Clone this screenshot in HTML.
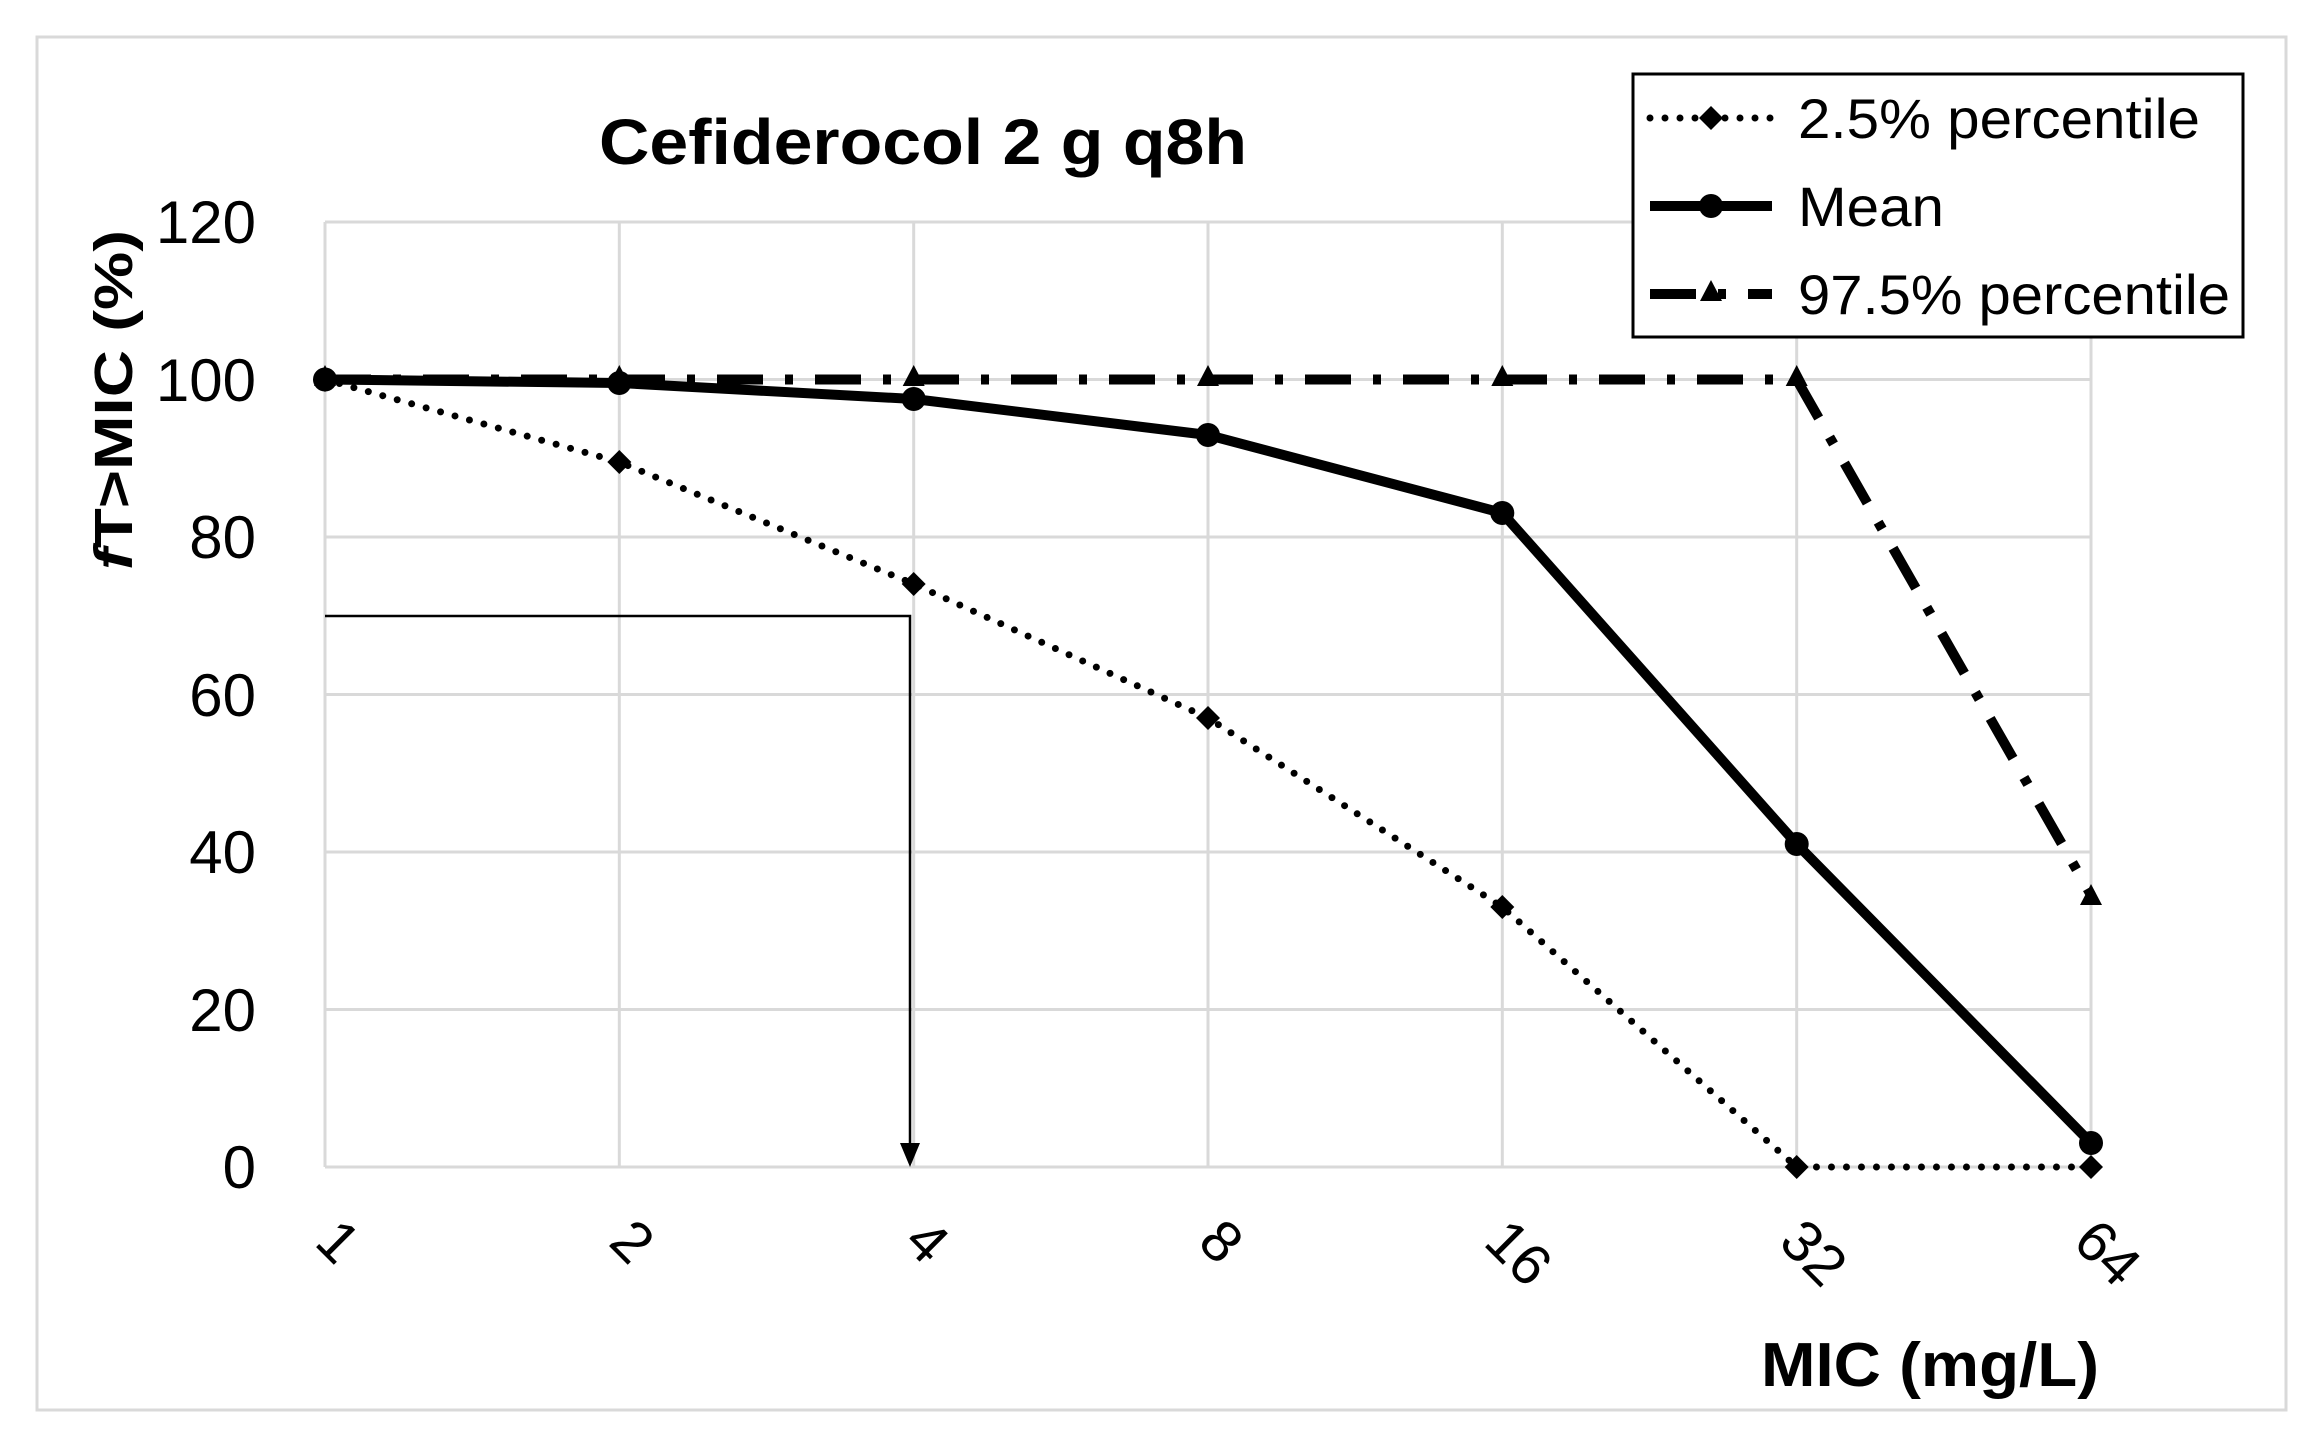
<!DOCTYPE html>
<html><head><meta charset="utf-8"><style>
html,body{margin:0;padding:0;background:#fff;}
svg text{font-family:"Liberation Sans",sans-serif;}
</style></head><body>
<svg width="2308" height="1435" viewBox="0 0 2308 1435" xmlns="http://www.w3.org/2000/svg">
<rect x="0" y="0" width="2308" height="1435" fill="#fff"/>
<rect x="37" y="37" width="2249" height="1373" fill="none" stroke="#d9d9d9" stroke-width="3"/>
<g stroke="#d9d9d9" stroke-width="3">
<line x1="325" y1="222" x2="2091" y2="222"/>
<line x1="325" y1="379.5" x2="2091" y2="379.5"/>
<line x1="325" y1="537" x2="2091" y2="537"/>
<line x1="325" y1="694.5" x2="2091" y2="694.5"/>
<line x1="325" y1="852" x2="2091" y2="852"/>
<line x1="325" y1="1009.5" x2="2091" y2="1009.5"/>
<line x1="325" y1="1167" x2="2091" y2="1167"/>
<line x1="325" y1="222" x2="325" y2="1167"/>
<line x1="619.3" y1="222" x2="619.3" y2="1167"/>
<line x1="913.7" y1="222" x2="913.7" y2="1167"/>
<line x1="1208" y1="222" x2="1208" y2="1167"/>
<line x1="1502.3" y1="222" x2="1502.3" y2="1167"/>
<line x1="1796.7" y1="222" x2="1796.7" y2="1167"/>
<line x1="2091" y1="222" x2="2091" y2="1167"/>
</g>
<text x="599" y="164" font-size="64" font-weight="bold" textLength="648" lengthAdjust="spacingAndGlyphs">Cefiderocol 2 g q8h</text>
<g font-size="60" text-anchor="end">
<text x="256" y="243">120</text>
<text x="256" y="401">100</text>
<text x="256" y="558">80</text>
<text x="256" y="716">60</text>
<text x="256" y="873">40</text>
<text x="256" y="1031">20</text>
<text x="256" y="1188">0</text>
</g>
<text transform="translate(132,400) rotate(-90)" font-size="54" font-weight="bold" text-anchor="middle" textLength="340" lengthAdjust="spacingAndGlyphs"><tspan font-style="italic">f</tspan>T&gt;MIC (%)</text>
<g font-size="58">
<text transform="translate(313,1244) rotate(45)">1</text>
<text transform="translate(607,1244) rotate(45)">2</text>
<text transform="translate(902,1244) rotate(45)">4</text>
<text transform="translate(1196,1244) rotate(45)">8</text>
<text transform="translate(1482,1244) rotate(45)">16</text>
<text transform="translate(1777,1244) rotate(45)">32</text>
<text transform="translate(2071,1244) rotate(45)">64</text>
</g>
<text x="1761" y="1386" font-size="62" font-weight="bold" textLength="338" lengthAdjust="spacingAndGlyphs">MIC (mg/L)</text>
<polyline points="325,616 910,616 910,1155" fill="none" stroke="#000" stroke-width="2.5"/>
<polygon points="900,1143 920,1143 910,1167" fill="#000"/>
<polyline points="325,379.5 619.3,379.5 913.7,379.5 1208,379.5 1502.3,379.5 1796.7,379.5 2091,895" fill="none" stroke="#000" stroke-width="10" stroke-dasharray="46,22,8,22"/>
<g fill="#000">
<polygon points="325,365 336,386 314,386"/><polygon points="619.3,365 630.3,386 608.3,386"/><polygon points="913.7,365 924.7,386 902.7,386"/><polygon points="1208,365 1219,386 1197,386"/><polygon points="1502.3,365 1513.3,386 1491.3,386"/><polygon points="1796.7,365 1807.7,386 1785.7,386"/><polygon points="2091,884 2102,905 2080,905"/>
</g>
<polyline points="325,379.5 619.3,462 913.7,584 1208,718 1502.3,907 1796.7,1167 2091,1167" fill="none" stroke="#000" stroke-width="7" stroke-linecap="round" stroke-dasharray="0,15"/>
<g fill="#000">
<polygon points="325,367 337,379.5 325,392 313,379.5"/><polygon points="619.3,450 631.3,462 619.3,474 607.3,462"/><polygon points="913.7,572 925.7,584 913.7,596 901.7,584"/><polygon points="1208,706 1220,718 1208,730 1196,718"/><polygon points="1502.3,895 1514.3,907 1502.3,919 1490.3,907"/><polygon points="1796.7,1155 1808.7,1167 1796.7,1179 1784.7,1167"/><polygon points="2091,1155 2103,1167 2091,1179 2079,1167"/>
</g>
<polyline points="325,379.5 619.3,383 913.7,399 1208,435 1502.3,513 1796.7,844 2091,1143" fill="none" stroke="#000" stroke-width="10" stroke-linejoin="round"/>
<g fill="#000">
<circle cx="325" cy="379.5" r="12"/><circle cx="619.3" cy="383" r="12"/><circle cx="913.7" cy="399" r="12"/><circle cx="1208" cy="435" r="12"/><circle cx="1502.3" cy="513" r="12"/><circle cx="1796.7" cy="844" r="12"/><circle cx="2091" cy="1143" r="12"/>
</g>
<rect x="1633" y="74" width="610" height="263" fill="#fff" stroke="#000" stroke-width="3"/>
<line x1="1650" y1="118" x2="1772" y2="118" stroke="#000" stroke-width="7" stroke-linecap="round" stroke-dasharray="0,15"/>
<polygon points="1711,106 1723,118 1711,130 1699,118" fill="#000"/>
<line x1="1650" y1="206" x2="1772" y2="206" stroke="#000" stroke-width="10"/>
<circle cx="1711" cy="206" r="12" fill="#000"/>
<line x1="1650" y1="294" x2="1772" y2="294" stroke="#000" stroke-width="10" stroke-dasharray="46,22,8,22"/>
<polygon points="1711,280 1722,301 1700,301" fill="#000"/>
<g font-size="56">
<text x="1798" y="138" textLength="402" lengthAdjust="spacingAndGlyphs">2.5% percentile</text>
<text x="1798" y="226" textLength="146" lengthAdjust="spacingAndGlyphs">Mean</text>
<text x="1798" y="314" textLength="432" lengthAdjust="spacingAndGlyphs">97.5% percentile</text>
</g>
</svg>
</body></html>
